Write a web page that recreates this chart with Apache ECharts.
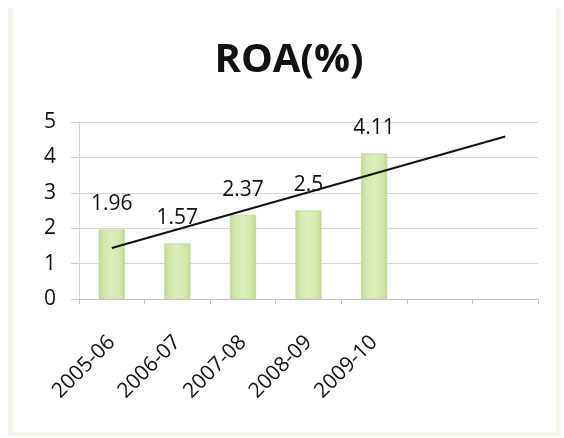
<!DOCTYPE html>
<html>
<head>
<meta charset="utf-8">
<script src="https://cdn.jsdelivr.net/npm/echarts@6/dist/echarts.min.js"></script>
<style>
  html, body { margin: 0; padding: 0; background: #ffffff; }
  #chart { width: 564px; height: 438px; }
</style>
</head>
<body>
<div id="chart"></div>
<script>
// Financial years on the category axis; the two trailing slots hold the trend forecast
const categories = ['2005-06', '2006-07', '2007-08', '2008-09', '2009-10', '', ''];
// Return on assets (%) per year
const roaValues = [1.96, 1.57, 2.37, 2.5, 4.11];
// Linear trend line end points (first year and two periods ahead)
const trendValues = [1.44, null, null, null, null, null, 4.59];
const yTicks = [0, 1, 2, 3, 4, 5];

const FONT = '"Open Sans", "Noto Sans", sans-serif';
const chart = echarts.init(document.getElementById('chart'), null, { renderer: 'canvas' });

const barFill = new echarts.graphic.LinearGradient(0, 0, 1, 0, [
  { offset: 0, color: '#bfd98e' },
  { offset: 0.18, color: '#d3e7ab' },
  { offset: 0.5, color: '#dcedbb' },
  { offset: 0.82, color: '#d3e7ab' },
  { offset: 1, color: '#bfd98e' }
]);

chart.setOption({
  animation: false,
  backgroundColor: '#ffffff',
  graphic: [
    // faint outer frame of the chart box
    { type: 'rect', shape: { x: 8, y: 8, width: 5, height: 428 }, style: { fill: '#f2f5e8' }, z: -1 },
    { type: 'rect', shape: { x: 556, y: 8, width: 5, height: 428 }, style: { fill: '#f2f5e8' }, z: -1 },
    { type: 'rect', shape: { x: 8, y: 432, width: 553, height: 4 }, style: { fill: '#f4f6eb' }, z: -1 }
  ],
  title: {
    text: 'ROA(%)',
    left: 284,
    top: 36,
    textAlign: 'center',
    textStyle: { fontFamily: FONT, fontWeight: 'bold', fontSize: 40, color: '#111111' }
  },
  grid: { left: 79, right: 26, top: 122, bottom: 139, containLabel: false },
  xAxis: {
    type: 'category',
    data: categories,
    boundaryGap: true,
    axisLine: { show: true, lineStyle: { color: '#c4c4c4', width: 1 } },
    axisTick: { show: true, alignWithLabel: false, length: 5, lineStyle: { color: '#c4c4c4' } },
    axisLabel: {
      rotate: 45,
      interval: 0,
      margin: 40,
      fontFamily: FONT,
      fontSize: 21,
      color: '#111111'
    },
    splitLine: { show: false }
  },
  yAxis: {
    type: 'value',
    min: yTicks[0],
    max: yTicks[yTicks.length - 1],
    interval: 1,
    axisLine: { show: true, lineStyle: { color: '#d4d4dc' } },
    axisTick: { show: true, length: 8, lineStyle: { color: '#c8c8d0' } },
    axisLabel: { margin: 23, fontFamily: FONT, fontSize: 21, color: '#111111' },
    splitLine: { show: true, lineStyle: { color: '#d8d8dc', width: 1 } }
  },
  series: [
    {
      name: 'ROA',
      type: 'bar',
      data: roaValues,
      barWidth: 26,
      itemStyle: { color: barFill, borderColor: '#b4d084', borderWidth: 0.5 },
      label: {
        show: true,
        position: 'top',
        distance: 15,
        fontFamily: FONT,
        fontSize: 21,
        color: '#111111'
      }
    },
    {
      name: 'Trend',
      type: 'line',
      data: trendValues,
      connectNulls: true,
      symbol: 'none',
      lineStyle: { color: '#111111', width: 2 },
      z: 5
    }
  ]
});
</script>
</body>
</html>
